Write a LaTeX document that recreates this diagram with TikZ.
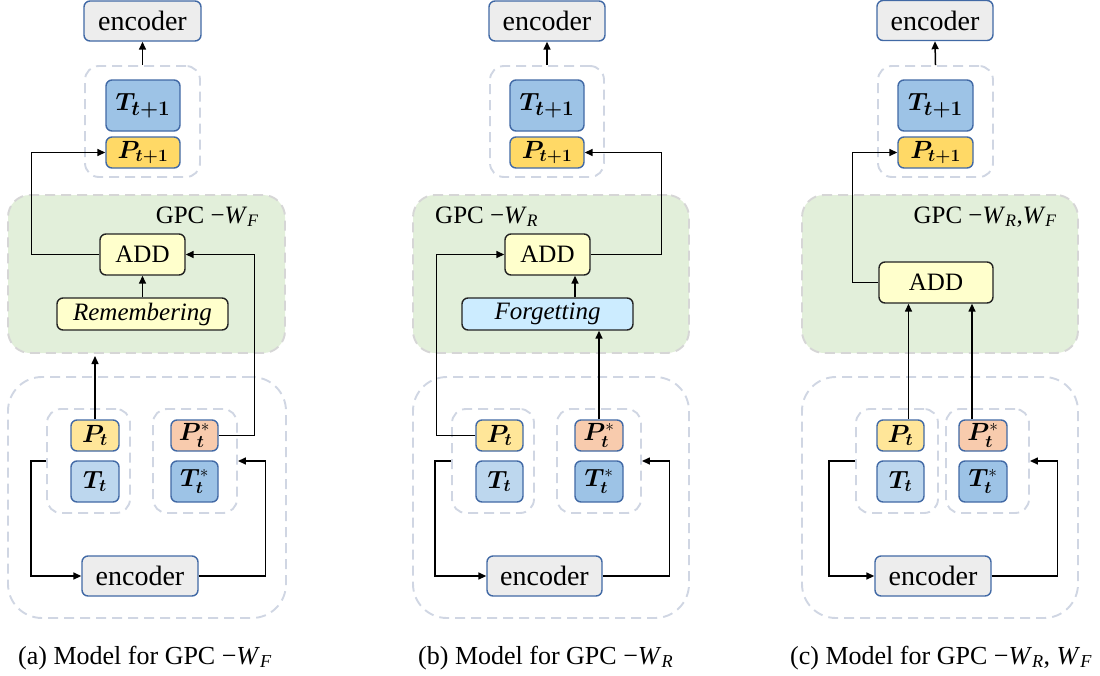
\documentclass[tikz,border=0pt]{standalone}
\usepackage{fontspec}
\setmainfont{Liberation Serif}
\usepackage{bm}
\usetikzlibrary{arrows.meta}
\definecolor{bbord}{RGB}{65,105,165}
\definecolor{encfill}{RGB}{237,237,237}
\definecolor{tdark}{RGB}{157,195,230}
\definecolor{tlight}{RGB}{189,215,238}
\definecolor{pdark}{RGB}{255,217,102}
\definecolor{plight}{RGB}{255,230,153}
\definecolor{ppeach}{RGB}{248,203,173}
\definecolor{addfill}{RGB}{255,255,204}
\definecolor{forgfill}{RGB}{204,236,255}
\definecolor{gpcfill}{RGB}{226,239,218}
\definecolor{gpcbord}{RGB}{214,214,214}
\definecolor{grpbord}{RGB}{208,214,227}
\definecolor{opline}{RGB}{35,35,35}
\newcommand{\fs}[1]{\fontsize{#1}{#1}\selectfont}
\newcommand{\mm}{\symbol{"2212}}
\tikzset{
  bx/.style={draw=bbord, line width=1.4pt, rounded corners=6pt, inner sep=0pt},
  encbox/.style={bx, fill=encfill, font=\fs{28}},
  opbox/.style={draw=opline, line width=1.4pt, rounded corners=6pt, inner sep=0pt, fill=addfill, font=\fs{25}},
  grp/.style={draw=grpbord, line width=1.9pt, dash pattern=on 10pt off 6pt, rounded corners=14pt, inner sep=0pt},
  outerbox/.style={draw=grpbord, line width=1.9pt, dash pattern=on 10pt off 6pt, rounded corners=34pt, inner sep=0pt},
  gpc/.style={draw=gpcbord, fill=gpcfill, line width=1.9pt, dash pattern=on 10pt off 6pt, rounded corners=22pt, inner sep=0pt},
  arr/.style={line width=1.5pt, -{Triangle[length=8pt,width=7pt]}},
  lbl/.style={font=\fs{25}, inner sep=0pt},
  captxt/.style={font=\fs{26}, inner sep=0pt}
}
\begin{document}
\begin{tikzpicture}[x=1pt,y=-1pt]
\useasboundingbox (0,0) rectangle (1100,675);

% ================= panel (a) =================
\node[gpc, minimum width=277pt, minimum height=158pt] (a-gpc) at (146.5,274) {};
\node[outerbox, minimum width=278pt, minimum height=241pt] (a-out) at (147,497.5) {};
\node[encbox, minimum width=117pt, minimum height=40pt] (a-enct) at (142.5,21) {encoder};
\node[grp, minimum width=115pt, minimum height=111pt] (a-grpt) at (142.5,121.5) {};
\node[bx, fill=tdark, minimum width=74pt, minimum height=51pt, font=\fs{29}] (a-tn) at (143,105.5) {$\bm{T}_{\bm{t+1}}$};
\node[bx, fill=pdark, minimum width=74pt, minimum height=31pt, font=\fs{25}] (a-pn) at (143,152.5) {$\bm{P}_{\bm{t+1}}$};
\node[lbl, anchor=base east] (a-lbl) at (259,223) {GPC \mm\textit{W}\textsubscript{\textit{F}}};
\node[opbox, minimum width=85pt, minimum height=41pt] (a-add) at (142.5,254.5) {ADD};
\node[opbox, minimum width=171pt, minimum height=32pt] (a-rem) at (142.5,314) {\textit{Remembering}};
\node[grp, minimum width=83pt, minimum height=104pt] (a-grpl) at (88.5,461) {};
\node[grp, minimum width=84pt, minimum height=104pt] (a-grpr) at (195,461) {};
\node[bx, fill=plight, minimum width=48pt, minimum height=31pt, font=\fs{24}] (a-pt) at (95,435.5) {$\bm{P}_{\bm{t}}$};
\node[bx, fill=tlight, minimum width=48pt, minimum height=41pt, font=\fs{24}] (a-tt) at (95,481.5) {$\bm{T}_{\bm{t}}$};
\node[bx, fill=ppeach, minimum width=47pt, minimum height=31pt, font=\fs{24}] (a-ps) at (194.5,435.5) {$\bm{P}_{\bm{t}}^{*}$};
\node[bx, fill=tdark, minimum width=47pt, minimum height=41pt, font=\fs{24}] (a-ts) at (194.5,481.5) {$\bm{T}_{\bm{t}}^{*}$};
\node[encbox, minimum width=116pt, minimum height=40pt] (a-encb) at (140,576) {encoder};
\coordinate (a-pup) at (95,356);

\draw[arr] (a-grpt.north) -- (a-enct.south);
\draw[arr] (a-add.west) -- ++(-68,0) |- (a-pn.west);
\draw[arr] (a-rem.north) -- (a-add.south);
\draw[arr] (a-pt.north) -- (a-pup);
\draw[arr] (a-ps.east) -- ++(36,0) |- (a-add.east);
\draw[arr] (a-grpl.west) -- ++(-15,0) |- (a-encb.west);
\draw[arr] (a-encb.east) -- ++(67,0) |- (a-grpr.east);

% ================= panel (b) =================
\node[gpc, minimum width=276pt, minimum height=158pt] (b-gpc) at (551,274) {};
\node[outerbox, minimum width=276pt, minimum height=241pt] (b-out) at (551,497.5) {};
\node[encbox, minimum width=116pt, minimum height=40pt] (b-enct) at (547,21) {encoder};
\node[grp, minimum width=114pt, minimum height=111pt] (b-grpt) at (547,121.5) {};
\node[bx, fill=tdark, minimum width=74pt, minimum height=51pt, font=\fs{29}] (b-tn) at (547,105.5) {$\bm{T}_{\bm{t+1}}$};
\node[bx, fill=pdark, minimum width=74pt, minimum height=31pt, font=\fs{25}] (b-pn) at (547,152.5) {$\bm{P}_{\bm{t+1}}$};
\node[lbl, anchor=base west] (b-lbl) at (435,223) {GPC \mm\textit{W}\textsubscript{\textit{R}}};
\node[opbox, minimum width=85pt, minimum height=41pt] (b-add) at (547.5,254.5) {ADD};
\node[opbox, fill=forgfill, minimum width=171pt, minimum height=32pt] (b-forg) at (547.5,314) {\textit{Forgetting}};
\node[grp, minimum width=82pt, minimum height=104pt] (b-grpl) at (493,461) {};
\node[grp, minimum width=84pt, minimum height=104pt] (b-grpr) at (599,461) {};
\node[bx, fill=plight, minimum width=47pt, minimum height=31pt, font=\fs{24}] (b-pt) at (499.5,435.5) {$\bm{P}_{\bm{t}}$};
\node[bx, fill=tlight, minimum width=47pt, minimum height=41pt, font=\fs{24}] (b-tt) at (499.5,481.5) {$\bm{T}_{\bm{t}}$};
\node[bx, fill=ppeach, minimum width=48pt, minimum height=31pt, font=\fs{24}] (b-ps) at (599,435.5) {$\bm{P}_{\bm{t}}^{*}$};
\node[bx, fill=tdark, minimum width=48pt, minimum height=41pt, font=\fs{24}] (b-ts) at (599,481.5) {$\bm{T}_{\bm{t}}^{*}$};
\node[encbox, minimum width=115pt, minimum height=40pt] (b-encb) at (544.5,576) {encoder};

\draw[arr] (b-grpt.north) -- (b-enct.south);
\draw[arr] (b-add.east) -- ++(71,0) |- (b-pn.east);
\draw[arr] (b-pt.west) -- ++(-39,0) |- (b-add.west);
\draw[arr] (b-ps.north) -- (b-ps.north |- b-forg.south);
\draw[arr] ([xshift=27.5pt]b-forg.north) -- ([xshift=27.5pt]b-add.south);
\draw[arr] (b-grpl.west) -- ++(-16,0) |- (b-encb.west);
\draw[arr] (b-encb.east) -- ++(67,0) |- (b-grpr.east);

% ================= panel (c) =================
\node[gpc, minimum width=276pt, minimum height=158pt] (c-gpc) at (940,274) {};
\node[outerbox, minimum width=276pt, minimum height=241pt] (c-out) at (940,497.5) {};
\node[encbox, minimum width=116pt, minimum height=40pt] (c-enct) at (935,20.5) {encoder};
\node[grp, minimum width=115pt, minimum height=111pt] (c-grpt) at (935.5,121.5) {};
\node[bx, fill=tdark, minimum width=75pt, minimum height=51pt, font=\fs{29}] (c-tn) at (935.5,105.5) {$\bm{T}_{\bm{t+1}}$};
\node[bx, fill=pdark, minimum width=75pt, minimum height=31pt, font=\fs{25}] (c-pn) at (935.5,152.5) {$\bm{P}_{\bm{t+1}}$};
\node[lbl, anchor=base east] (c-lbl) at (1057,223) {GPC \mm\textit{W}\textsubscript{\textit{R}},\textit{W}\textsubscript{\textit{F}}};
\node[opbox, minimum width=114pt, minimum height=41pt] (c-add) at (936,282.5) {ADD};
\node[grp, minimum width=82pt, minimum height=104pt] (c-grpl) at (897,461) {};
\node[grp, minimum width=83pt, minimum height=104pt] (c-grpr) at (987.5,461) {};
\node[bx, fill=plight, minimum width=47pt, minimum height=31pt, font=\fs{24}] (c-pt) at (900.5,435.5) {$\bm{P}_{\bm{t}}$};
\node[bx, fill=tlight, minimum width=47pt, minimum height=41pt, font=\fs{24}] (c-tt) at (900.5,481.5) {$\bm{T}_{\bm{t}}$};
\node[bx, fill=ppeach, minimum width=48pt, minimum height=31pt, font=\fs{24}] (c-ps) at (983,435.5) {$\bm{P}_{\bm{t}}^{*}$};
\node[bx, fill=tdark, minimum width=48pt, minimum height=41pt, font=\fs{24}] (c-ts) at (983,481.5) {$\bm{T}_{\bm{t}}^{*}$};
\node[encbox, minimum width=116pt, minimum height=40pt] (c-encb) at (933,576) {encoder};

\draw[arr] (c-grpt.north) -- (c-enct.south);
\draw[arr] (c-add.west) -- ++(-26,0) |- (c-pn.west);
\draw[arr] ([xshift=8pt]c-pt.north) -- ([xshift=8pt]c-pt.north |- c-add.south);
\draw[arr] ([xshift=-11pt]c-ps.north) -- ([xshift=-11pt]c-ps.north |- c-add.south);
\draw[arr] (c-grpl.west) -- ++(-26,0) |- (c-encb.west);
\draw[arr] (c-encb.east) -- ++(66,0) |- (c-grpr.east);

% ================= captions =================
\node[captxt, anchor=base west] (a-cap) at (18,664) {(a) Model for GPC \mm\textit{W}\textsubscript{\textit{F}}};
\node[captxt, anchor=base west] (b-cap) at (418,664) {(b) Model for GPC \mm\textit{W}\textsubscript{\textit{R}}};
\node[captxt, anchor=base west] (c-cap) at (790,664) {(c) Model for GPC \mm\textit{W}\textsubscript{\textit{R}}, \textit{W}\textsubscript{\textit{F}}};
\end{tikzpicture}
\end{document}
